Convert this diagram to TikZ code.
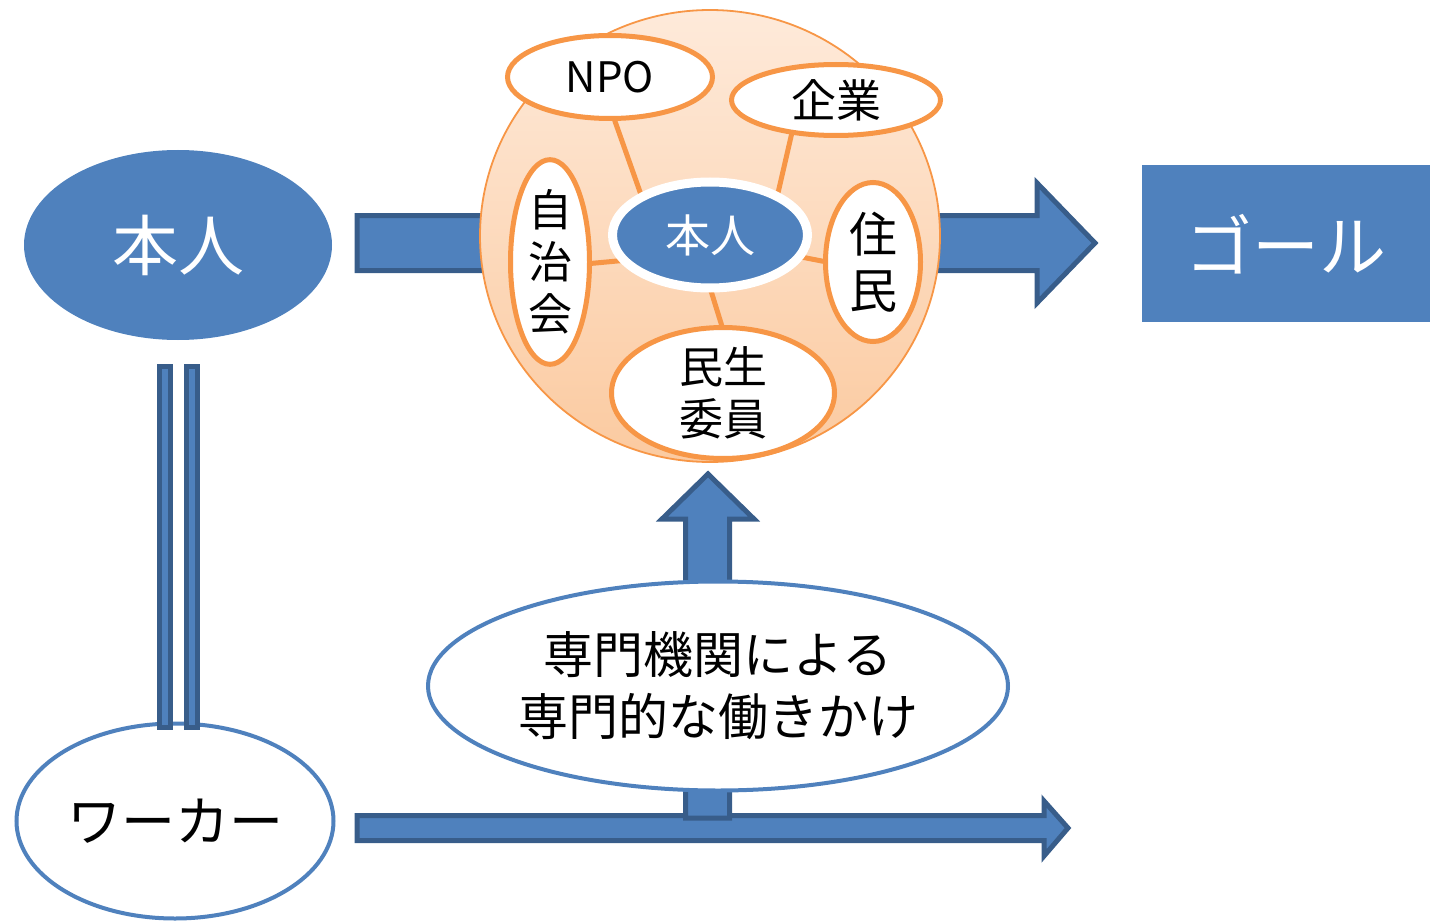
\documentclass[tikz,border=0pt]{standalone}
\usepackage{fontspec}
\setmainfont{Noto Sans CJK JP}
\usetikzlibrary{shapes.geometric}
\definecolor{arrblue}{RGB}{79,129,189}
\definecolor{arrdark}{RGB}{56,93,138}
\definecolor{orng}{RGB}{247,150,70}
\definecolor{peachtop}{RGB}{254,234,218}
\definecolor{peachbot}{RGB}{251,202,160}
\tikzset{
  blockarrow/.style={fill=arrblue, draw=arrdark, line width=5pt, line join=miter},
  orangeell/.style={ellipse, draw=orng, line width=5pt, fill=white, inner sep=0pt, text=black},
  blueell/.style={ellipse, draw=arrblue, line width=4pt, fill=white, inner sep=0pt, text=black},
  link/.style={draw=orng, line width=5pt},
  bar/.style={fill=arrblue, draw=arrdark, line width=5pt},
}
\newcommand{\fs}[1]{\fontsize{#1}{#1}\selectfont}
\begin{document}
\begin{tikzpicture}[x=1pt,y=-1pt]
\useasboundingbox (0,0) rectangle (1430,923);
% left person
\node[ellipse, fill=arrblue, minimum width=308pt, minimum height=190pt, inner sep=0pt, text=white, font=\fs{66}] (honnin) at (178,245) {本人};
% goal
\node[fill=arrblue, minimum width=288pt, minimum height=157pt, inner sep=0pt, text=white, font=\fs{67}, anchor=north west] (goal) at (1142,165) {ゴール};
% big arrow
\coordinate (a1) at (357,215.5);
\coordinate (a2) at (1037,215.5);
\coordinate (a3) at (1037,183);
\coordinate (a4) at (1095,243);
\coordinate (a5) at (1037,303);
\coordinate (a6) at (1037,270.5);
\coordinate (a7) at (357,270.5);
\draw[blockarrow] (a1) -- (a2) -- (a3) -- (a4) -- (a5) -- (a6) -- (a7) -- cycle;
% community circle
\node[ellipse, draw=orng, line width=1.8pt, top color=peachtop, bottom color=peachbot, minimum width=460pt, minimum height=452pt, inner sep=0pt] (circle) at (710,236) {};
% inner nodes positions
\coordinate (cC) at (710,235);
\coordinate (cNPO) at (610,77);
\coordinate (cKig) at (836,100);
\coordinate (cJic) at (550,262);
\coordinate (cJum) at (873,262);
\coordinate (cMin) at (723,393);
% link end points
\coordinate (lNPOa) at (611,110);
\coordinate (lNPOb) at (645,206);
\coordinate (lKiga) at (793,128);
\coordinate (lKigb) at (775,206);
\coordinate (lJica) at (585,264);
\coordinate (lJicb) at (628,260);
\coordinate (lJuma) at (832,263);
\coordinate (lJumb) at (796,256);
\coordinate (lMina) at (707,278);
\coordinate (lMinb) at (725,336);
\draw[link] (lNPOa) -- (lNPOb);
\draw[link] (lKiga) -- (lKigb);
\draw[link] (lJica) -- (lJicb);
\draw[link] (lJuma) -- (lJumb);
\draw[link] (lMina) -- (lMinb);
\node[orangeell, minimum width=205pt, minimum height=83pt, font=\fs{42}] (npo) at (cNPO) {NPO};
\node[orangeell, minimum width=209pt, minimum height=71pt, font=\fs{45}] (kigyo) at (cKig) {企業};
\node[orangeell, minimum width=79pt, minimum height=203pt, font=\fontsize{44}{52}\selectfont, align=center] (jichi) at (cJic) {自\\治\\会};
\node[orangeell, minimum width=95pt, minimum height=159pt, font=\fontsize{48}{56}\selectfont, align=center] (jumin) at (cJum) {住\\民};
\node[orangeell, minimum width=223pt, minimum height=131pt, font=\fontsize{44}{52}\selectfont, align=center] (minsei) at (cMin) {民生\\委員};
\node[ellipse, fill=arrblue, draw=white, line width=9pt, minimum width=195pt, minimum height=106pt, inner sep=0pt, text=white, font=\fs{45}] (center) at (cC) {本人};
% worker
\node[blueell, minimum width=317pt, minimum height=195pt, font=\fs{54}] (worker) at (175,821) {ワーカー};
% double bars
\draw[bar] (159.5,366.5) rectangle (170.5,727);
\draw[bar] (186.5,366.5) rectangle (197.5,727);
% bottom arrow
\coordinate (b1) at (357,815.5);
\coordinate (b2) at (1044,815.5);
\coordinate (b3) at (1044,801);
\coordinate (b4) at (1068,828);
\coordinate (b5) at (1044,856);
\coordinate (b6) at (1044,840.5);
\coordinate (b7) at (357,840.5);
\draw[blockarrow] (b1) -- (b2) -- (b3) -- (b4) -- (b5) -- (b6) -- (b7) -- cycle;
% up arrow
\coordinate (u1) at (685.5,818);
\coordinate (u2) at (685.5,519);
\coordinate (u3) at (662,519);
\coordinate (u4) at (708,474);
\coordinate (u5) at (754,519);
\coordinate (u6) at (729.5,519);
\coordinate (u7) at (729.5,818);
\draw[blockarrow] (u1) -- (u2) -- (u3) -- (u4) -- (u5) -- (u6) -- (u7) -- cycle;
% professional ellipse
\node[blueell, minimum width=580pt, minimum height=209pt, font=\fontsize{50}{62}\selectfont, align=center] (senmon) at (718,686) {専門機関による\\専門的な働きかけ};
\end{tikzpicture}
\end{document}
